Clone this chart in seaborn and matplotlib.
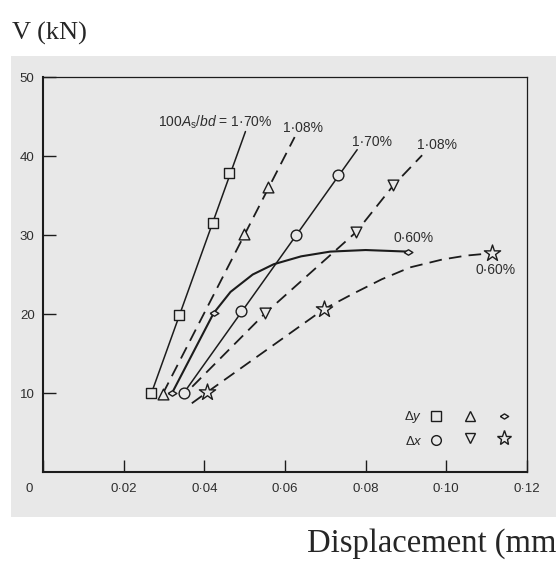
import seaborn as sns
import matplotlib.pyplot as plt
from matplotlib.patches import Rectangle
from matplotlib.lines import Line2D
from matplotlib.transforms import ScaledTranslation

# ---- data ----
# Δy, 100As/bd = 1.70 %  (squares, solid)
sq_x = [0.0269, 0.0337, 0.0422, 0.0462]
sq_y = [10.0, 19.9, 31.5, 37.8]
sq_line_x = [0.0269, 0.0502]
sq_line_y = [10.0, 43.1]

# Δy, 1.08 %  (triangles, dashed)
tri_x = [0.0297, 0.0498, 0.0558]
tri_y = [9.9, 30.1, 36.1]
tri_line_x = [0.0297, 0.0624]
tri_line_y = [9.9, 42.4]

# Δy, 0.60 %  (diamonds, solid curve)
dia_x = [0.0320, 0.0423, 0.0904]
dia_y = [10.0, 20.1, 27.9]
dia_line_x = [0.0320, 0.0423, 0.0465, 0.0520, 0.0572, 0.0640, 0.0712, 0.0800, 0.0904]
dia_line_y = [10.0, 20.1, 22.8, 25.0, 26.3, 27.3, 27.9, 28.1, 27.9]

# Δx, 1.70 %  (circles, solid)
circ_x = [0.0349, 0.0490, 0.0627, 0.0732]
circ_y = [10.0, 20.4, 30.0, 37.6]
circ_line_x = [0.0349, 0.0779]
circ_line_y = [10.0, 40.8]

# Δx, 1.08 %  (down triangles, dashed)
dtri_x = [0.0551, 0.0777, 0.0869]
dtri_y = [20.1, 30.4, 36.3]
dtri_line_x = [0.0370, 0.0551, 0.0777, 0.0869, 0.0940]
dtri_line_y = [10.8, 20.1, 30.4, 36.3, 40.1]

# Δx, 0.60 %  (stars, dashed curve)
star_x = [0.0407, 0.0696, 0.1114]
star_y = [10.1, 20.6, 27.7]
star_line_x = [0.0369, 0.0407, 0.0696, 0.0770, 0.0840, 0.0910, 0.0990, 0.1050, 0.1114]
star_line_y = [8.7, 10.1, 20.6, 22.6, 24.4, 25.9, 26.9, 27.4, 27.7]

# curve labels: text, x, y
label_texts = [r"100$A_{\rm s}/bd$ = 1·70%", "1·08%", "1·70%", "1·08%", "0·60%", "0·60%"]
label_x = [0.0568, 0.0596, 0.0766, 0.0927, 0.0868, 0.1072]
label_y = [44.3, 43.6, 41.8, 41.4, 29.6, 25.6]

x_ticks = [0, 0.02, 0.04, 0.06, 0.08, 0.10, 0.12]
x_tick_labels = ["0", "0·02", "0·04", "0·06", "0·08", "0·10", "0·12"]
y_ticks = [10, 20, 30, 40, 50]
y_tick_labels = ["10", "20", "30", "40", "50"]

# ---- style ----
sns.set_style("ticks")
plt.rcParams["font.family"] = ["Liberation Sans", "DejaVu Sans"]
plt.rcParams["mathtext.fontset"] = "custom"
plt.rcParams["mathtext.rm"] = "Liberation Sans"
plt.rcParams["mathtext.it"] = "Liberation Sans:italic"

ink = "#1c1c1c"
txt = "#2e2e2e"
bg = "#e8e8e8"
dash = (0, (7, 4))

fig = plt.figure(figsize=(5.56, 5.63), dpi=100)
# grey scanned area behind the chart
fig.patches.append(Rectangle((0.019, 0.0817), 0.981, 0.819, transform=fig.transFigure,
                             facecolor=bg, edgecolor="none", zorder=-10))
ax = fig.add_axes([0.0773, 0.1616, 0.8705, 0.7016])
ax.set_facecolor(bg)

# lines
sns.lineplot(x=sq_line_x, y=sq_line_y, ax=ax, color=ink, lw=1.1, sort=False)
sns.lineplot(x=tri_line_x, y=tri_line_y, ax=ax, color=ink, lw=1.3, linestyle=dash, sort=False)
sns.lineplot(x=dia_line_x, y=dia_line_y, ax=ax, color=ink, lw=1.5, sort=False)
sns.lineplot(x=circ_line_x, y=circ_line_y, ax=ax, color=ink, lw=1.1, sort=False)
sns.lineplot(x=dtri_line_x, y=dtri_line_y, ax=ax, color=ink, lw=1.3, linestyle=dash, sort=False)
sns.lineplot(x=star_line_x, y=star_line_y, ax=ax, color=ink, lw=1.3, linestyle=dash, sort=False)

# markers
diamond = [(-1, 0), (0, 0.62), (1, 0), (0, -0.62), (-1, 0)]
mk = dict(ax=ax, color=bg, edgecolor=ink, linewidth=1.0, zorder=4)
sns.scatterplot(x=sq_x, y=sq_y, marker="s", s=55, **mk)
sns.scatterplot(x=tri_x, y=tri_y, marker="^", s=60, **mk)
sns.scatterplot(x=dia_x, y=dia_y, marker=diamond, s=40, **mk)
sns.scatterplot(x=circ_x, y=circ_y, marker="o", s=60, **mk)
sns.scatterplot(x=dtri_x, y=dtri_y, marker="v", s=60, **mk)
sns.scatterplot(x=star_x, y=star_y, marker="*", s=150, **mk)

for t, lx, ly in zip(label_texts, label_x, label_y):
    ha = "right" if t.startswith("100") else "left"
    ax.text(lx, ly, t, ha=ha, va="center", fontsize=10, color=txt)

# legend: label to the left of the symbols
def h(m, ms):
    return Line2D([], [], ls="none", marker=m, ms=ms, mfc=bg, mec=ink, mew=1.0)

handles = [h("s", 6.5), h("o", 7), h("^", 7), h("v", 7), h(diamond, 6), h("*", 11)]
labels = [r"$\Delta y$", r"$\Delta x$", "", "", "", ""]
ax.legend(handles, labels, ncol=3, markerfirst=False, frameon=False, fontsize=9.5,
          handlelength=1.0, handletextpad=0.5, columnspacing=1.1, labelspacing=0.75,
          loc="center", bbox_to_anchor=(0.857, 0.110))

# axes
ax.set_xlim(0, 0.12)
ax.set_ylim(0, 50)
ax.set_xticks(x_ticks, labels=x_tick_labels)
ax.set_yticks(y_ticks, labels=y_tick_labels)
ax.tick_params(direction="in", length=9, width=1.0, colors=ink, labelcolor=txt, labelsize=9.5)
ax.tick_params(axis="x", pad=8)
ax.tick_params(axis="y", pad=6)
zero = ax.get_xticklabels()[0]
zero.set_transform(zero.get_transform() + ScaledTranslation(-0.14, 0, fig.dpi_scale_trans))
for side in ["left", "bottom"]:
    ax.spines[side].set_linewidth(1.5)
for side in ["top", "right"]:
    ax.spines[side].set_linewidth(0.9)
for s in ax.spines.values():
    s.set_color(ink)
ax.set_xlabel("")
ax.set_ylabel("")

fig.text(0.022, 0.941, "V (kN)", family="Liberation Serif", fontsize=19, ha="left", va="center")
fig.text(0.552, 0.035, "Displacement (mm)", family="Liberation Serif", fontsize=23.5,
         ha="left", va="center")

fig.savefig("out.png", dpi=100)
